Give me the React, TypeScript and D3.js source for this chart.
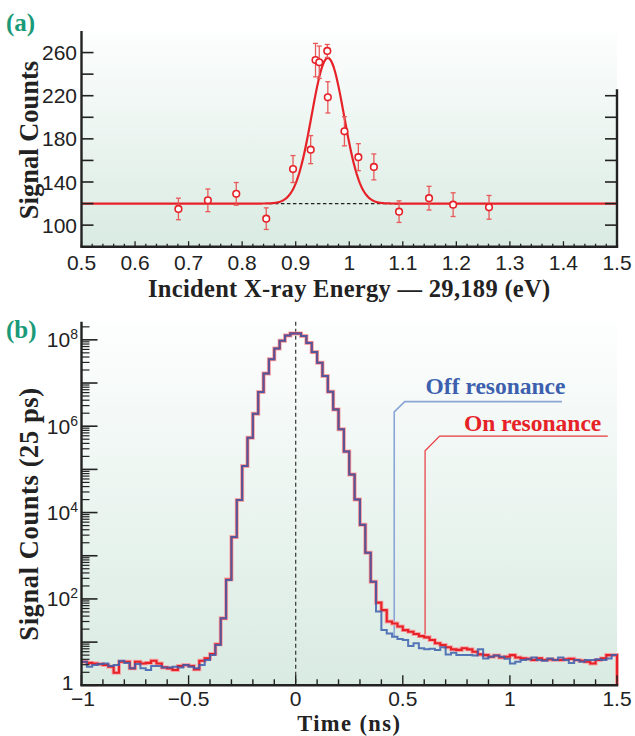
import React from 'react'
import * as d3 from 'd3'

// ---- panel (a): energy scan ----
const energy = [0.681, 0.736, 0.789, 0.845, 0.895, 0.928, 0.937, 0.944, 0.959, 0.96, 0.991, 1.017, 1.046, 1.093, 1.149, 1.194, 1.261]
const signal = [115, 123, 129, 106, 152, 170, 253, 251, 261.5, 218.5, 187, 163, 154, 112.5, 125, 119, 116.5]
const signalErr = [10, 10.5, 10.5, 10, 12.5, 13, 15.5, 15, 6, 14.5, 13.5, 12.5, 12, 10, 11, 11, 11]
// gaussian fit
const fitBase = 120
const fitAmp = 135
const fitCenter = 0.96
const fitSigma = 0.0302
const baselineSpan = [0.85, 1.095]
const energyLabels = [0.5, 0.6, 0.7, 0.8, 0.9, 1, 1.1, 1.2, 1.3, 1.4, 1.5]
const countLabels = [100, 140, 180, 220, 260]
const countTicks = [100, 120, 140, 160, 180, 200, 220, 240, 260]
const rightTicks = [100, 120, 140, 160, 180, 200, 220]

// ---- panel (b): time spectra, 25 ps bins from -1 ns ----
const binStart = -1
const binWidth = 0.025
const onLeft = [3.5, 3.3, 3.2, 3.1, 2.95, 2.7, 1.96, 3.5, 3.5, 2.47, 3.5, 3.2, 3.3, 3.7, 3.2, 2.6, 2.47, 2.26, 2.8, 2.95, 2.8, 2.34, 3.7, 4.2, 5.3, 8.9, 35.5, 282]
const offLeft = [3.5, 2.7, 2.95, 3.1, 3.2, 2.8, 2.95, 3.7, 3.3, 2.47, 3.1, 2.47, 2.26, 2.8, 2.8, 2.6, 2.6, 2.7, 2.6, 2.95, 2.7, 2.47, 2.95, 3.85, 5.0, 8.6, 35.5, 274]
const peakCounts = [2700, 19500, 1.2e5, 5.4e5, 1.95e6, 6.2e6, 1.66e7, 3.55e7, 6.3e7, 9.5e7, 1.26e8, 1.41e8, 1.41e8, 1.23e8, 8.5e7, 5.2e7, 2.95e7, 1.45e7, 6.3e6, 2.45e6, 8.5e5, 2.6e5, 7.6e4, 2.0e4, 5200, 1170, 250]
const onTail = [82, 55, 30, 27, 23, 19, 17.4, 15.4, 13.8, 12.9, 11.2, 9.4, 8.6, 7.6, 6.8, 6.6, 7.2, 6.8, 6.0, 5.2, 5.0, 4.6, 4.9, 4.4, 4.6, 5.0, 4.4, 4.2, 4.1, 3.85, 4.2, 3.85, 4.0, 3.85, 3.85, 4.0, 4.1, 3.85, 3.7, 3.5, 3.2, 3.85, 4.2, 5.0, 5.0]
const offTail = [51, 19, 15.9, 13.4, 11.8, 11.2, 8.1, 9.4, 7.2, 6.8, 7.0, 6.6, 7.6, 5.2, 5.7, 5.0, 5.0, 5.0, 4.9, 6.8, 4.2, 4.6, 4.9, 4.6, 4.1, 3.2, 3.5, 3.85, 4.0, 4.4, 3.85, 3.7, 4.2, 3.85, 4.4, 3.85, 3.3, 3.85, 3.5, 3.85, 3.85, 4.0, 3.85, 4.2, 5.0]
const onResonance = [...onLeft, ...peakCounts, ...onTail]
const offResonance = [...offLeft, ...peakCounts, ...offTail]
const timeLabels = [-1, -0.5, 0, 0.5, 1, 1.5]
const decadeLabels = [0, 2, 4, 6, 8]

// leader lines for the labels: [time, log10 count]
const offLeader = [[0.46, 1.13], [0.46, 6.33], [0.509, 6.57], [1.243, 6.57]]
const onLeader = [[0.604, 1.11], [0.604, 5.43], [0.672, 5.77], [1.457, 5.77]]

const RED = '#e62128'
const BLUE = '#3c5fae'
const TEAL = '#1a9a78'
const serif = '"Liberation Serif", "Times New Roman", serif'
const sans = '"Liberation Sans", Arial, sans-serif'

export default function App() {
  const xA = d3.scaleLinear().domain([0.5, 1.5]).range([81.5, 617])
  const yA = d3.scaleLinear().domain([80, 280]).range([246.7, 31])
  const xB = d3.scaleLinear().domain([-1, 1.5]).range([81.5, 617])
  const yB = d3.scaleLog().domain([1, Math.pow(10, 8.42)]).range([685.3, 321.7])

  const fitPts = d3.range(0.5, 1.5001, 0.002).map(e => [e, fitBase + fitAmp * Math.exp(-((e - fitCenter) ** 2) / (2 * fitSigma ** 2))])
  const fitLine = d3.line<number[]>().x(d => xA(d[0])).y(d => yA(d[1]))

  const stepLine = d3.line<number[]>().x(d => xB(d[0])).y(d => yB(d[1])).curve(d3.curveStepAfter)
  const histPts = (vals: number[], close: boolean) => {
    const pts = vals.map((v, i) => [binStart + i * binWidth, v])
    pts.push([1.5, vals[vals.length - 1]])
    if (close) pts.push([1.5, 1])
    return pts
  }
  const leaderLine = d3.line<number[]>().x(d => xB(d[0])).y(d => yB(Math.pow(10, d[1])))

  const minorA = d3.range(0.5, 1.5001, 0.02)
  const minorB = d3.range(-1, 1.5001, 0.1)
  const logMinor: number[] = []
  for (let k = 0; k <= 8; k++) for (let m = 2; m <= 9; m++) if (m * Math.pow(10, k) < Math.pow(10, 8.42)) logMinor.push(m * Math.pow(10, k))

  const [a0, a1] = xA.range()
  const fmt = (v: number) => (v < 0 ? '\u2212' : '') + Math.abs(v)

  return (
    <svg width={635} height={736} style={{ position: 'absolute', left: 0, top: 0 }}>
      <defs>
        <linearGradient id="bg" x1="0" y1="0" x2="0" y2="1">
          <stop offset="0%" stopColor="#fdfefe" />
          <stop offset="100%" stopColor="#d9ebe2" />
        </linearGradient>
      </defs>

      {/* panel (a) */}
      <rect x={a0} y={yA(280)} width={a1 - a0} height={yA(80) - yA(280)} fill="url(#bg)" />
      <line x1={xA(baselineSpan[0])} x2={xA(baselineSpan[1])} y1={yA(fitBase)} y2={yA(fitBase)} stroke="#222" strokeWidth={1.3} strokeDasharray="3.5 2.5" />
      <path d={fitLine(fitPts) || ''} fill="none" stroke={RED} strokeWidth={2.2} />
      {energy.map((e, i) => (
        <g key={i} stroke="#e85a5a" strokeWidth={1.3}>
          <line x1={xA(e)} x2={xA(e)} y1={yA(signal[i] - signalErr[i])} y2={yA(signal[i] + signalErr[i])} />
          <line x1={xA(e) - 2.5} x2={xA(e) + 2.5} y1={yA(signal[i] - signalErr[i])} y2={yA(signal[i] - signalErr[i])} />
          <line x1={xA(e) - 2.5} x2={xA(e) + 2.5} y1={yA(signal[i] + signalErr[i])} y2={yA(signal[i] + signalErr[i])} />
          <circle cx={xA(e)} cy={yA(signal[i])} r={3.3} fill="#fff" stroke={RED} strokeWidth={1.6} />
        </g>
      ))}
      <g stroke="#222">
        <line x1={a0} x2={a0} y1={yA(280)} y2={yA(80)} strokeWidth={2.4} />
        <line x1={a0 - 1.2} x2={a1 + 1.2} y1={yA(80)} y2={yA(80)} strokeWidth={2.4} />
        <line x1={a1} x2={a1} y1={yA(226)} y2={yA(80)} strokeWidth={2.4} />
        {countTicks.map(t => <line key={t} x1={a0} x2={a0 + 12} y1={yA(t)} y2={yA(t)} strokeWidth={1.6} />)}
        {rightTicks.map(t => <line key={t} x1={a1 - 12} x2={a1} y1={yA(t)} y2={yA(t)} strokeWidth={1.6} />)}
        {minorA.map((t, i) => <line key={i} x1={xA(t)} x2={xA(t)} y1={yA(80)} y2={yA(80) - (i % 5 === 0 ? 5.5 : 3)} strokeWidth={1.3} />)}
      </g>
      <g fontFamily={sans} fontSize={21} fill="#222">
        {countLabels.map(t => <text key={t} x={a0 - 4.5} y={yA(t)} dy="0.36em" textAnchor="end">{t}</text>)}
        {energyLabels.map(t => <text key={t} x={xA(t)} y={270} textAnchor="middle">{t}</text>)}
      </g>
      <text x={6} y={31} fontFamily={serif} fontWeight="bold" fontSize={25} fill={TEAL}>(a)</text>
      <text transform="translate(38,140) rotate(-90)" textAnchor="middle" fontFamily={serif} fontWeight="bold" fontSize={26.5} fill="#222">Signal Counts</text>
      <text x={(a0 + a1) / 2} y={296.7} textAnchor="middle" fontFamily={serif} fontWeight="bold" fontSize={24.5} letterSpacing={0.3} fill="#222">Incident X-ray Energy — 29,189 (eV)</text>

      {/* panel (b) */}
      <rect x={a0} y={yB.range()[1]} width={a1 - a0} height={yB.range()[0] - yB.range()[1]} fill="url(#bg)" />
      <line x1={xB(0)} x2={xB(0)} y1={yB.range()[1]} y2={yB.range()[0]} stroke="#333" strokeWidth={1.2} strokeDasharray="4 3" />
      <path d={leaderLine(offLeader) || ''} fill="none" stroke="#8aa6d6" strokeWidth={1.6} />
      <path d={leaderLine(onLeader) || ''} fill="none" stroke="#e8383d" strokeWidth={1.2} />
      <path d={stepLine(histPts(onResonance, true)) || ''} fill="none" stroke="#f4a6a8" strokeWidth={4} />
      <path d={stepLine(histPts(onResonance, true)) || ''} fill="none" stroke={RED} strokeWidth={2.1} />
      <path d={stepLine(histPts(offResonance, false)) || ''} fill="none" stroke={BLUE} strokeWidth={2} strokeOpacity={0.85} />
      <text x={xB(0.933)} y={394.3} textAnchor="middle" fontFamily={serif} fontWeight="bold" fontSize={23.5} fill={BLUE}>Off resonance</text>
      <text x={xB(1.106)} y={430.7} textAnchor="middle" fontFamily={serif} fontWeight="bold" fontSize={23.5} fill={RED}>On resonance</text>
      <g stroke="#222">
        <line x1={a0} x2={a0} y1={yB.range()[1]} y2={yB.range()[0]} strokeWidth={2.4} />
        <line x1={a0 - 1.2} x2={a1 + 1.2} y1={yB.range()[0]} y2={yB.range()[0]} strokeWidth={2.4} />
        {d3.range(0, 9).map(k => <line key={k} x1={a0} x2={a0 + 16} y1={yB(Math.pow(10, k))} y2={yB(Math.pow(10, k))} strokeWidth={1.6} />)}
        {logMinor.map((v, i) => <line key={i} x1={a0} x2={a0 + 8} y1={yB(v)} y2={yB(v)} strokeWidth={1.2} />)}
        {minorB.map((t, i) => <line key={i} x1={xB(t)} x2={xB(t)} y1={yB.range()[0]} y2={yB.range()[0] - (i % 5 === 0 ? 10 : 6)} strokeWidth={1.4} />)}
      </g>
      <g fontFamily={sans} fontSize={21} fill="#222">
        {decadeLabels.map(k => k === 0
          ? <text key={k} x={a0 - 8} y={yB(1) - 2} dy="0.3em" textAnchor="end">1</text>
          : <text key={k} x={a0 - 3.5} y={yB(Math.pow(10, k))} dy="0.36em" textAnchor="end">10<tspan dy={-8} fontSize={14}>{k}</tspan></text>
        )}
        {timeLabels.map(t => <text key={t} x={xB(t) + (t === -1 ? 1.5 : 0)} y={705.5} textAnchor="middle">{fmt(t)}</text>)}
      </g>
      <text x={6} y={338} fontFamily={serif} fontWeight="bold" fontSize={25} fill={TEAL}>(b)</text>
      <text transform="translate(38,514) rotate(-90)" textAnchor="middle" fontFamily={serif} fontWeight="bold" fontSize={26.5} letterSpacing={0.6} fill="#222">Signal Counts (25 ps)</text>
      <text x={(a0 + a1) / 2} y={730.5} textAnchor="middle" fontFamily={serif} fontWeight="bold" fontSize={22.5} letterSpacing={1.4} fill="#222">Time (ns)</text>
    </svg>
  )
}
